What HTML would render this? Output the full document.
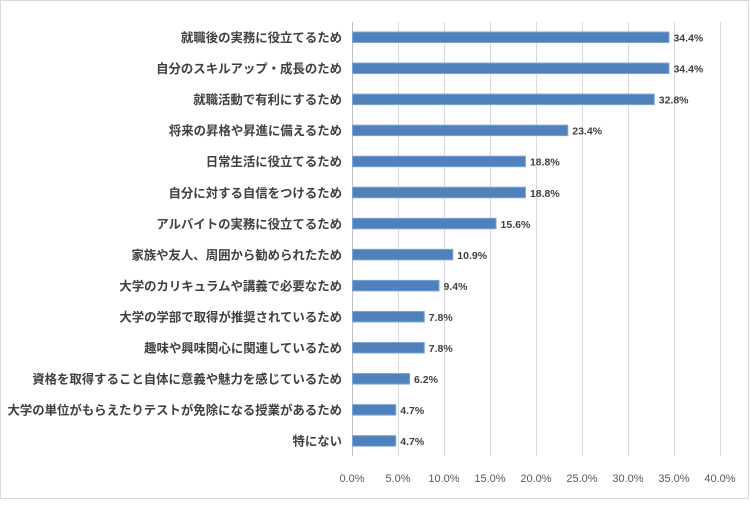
<!DOCTYPE html>
<html><head><meta charset="utf-8"><style>
body{margin:0;background:#fff;}
svg text{font-family:"Liberation Sans","Noto Sans CJK JP",sans-serif;}
</style></head><body>
<svg width="750" height="500" xmlns="http://www.w3.org/2000/svg">
<rect x="0.5" y="0.5" width="748" height="498" fill="#fff" stroke="#d9d9d9"/>
<g stroke="#d9d9d9" stroke-width="1">
<line x1="398.5" y1="22" x2="398.5" y2="456"/>
<line x1="444.5" y1="22" x2="444.5" y2="456"/>
<line x1="490.5" y1="22" x2="490.5" y2="456"/>
<line x1="536.5" y1="22" x2="536.5" y2="456"/>
<line x1="582.5" y1="22" x2="582.5" y2="456"/>
<line x1="628.5" y1="22" x2="628.5" y2="456"/>
<line x1="674.5" y1="22" x2="674.5" y2="456"/>
<line x1="720.5" y1="22" x2="720.5" y2="456"/>
<line x1="352.5" y1="22" x2="352.5" y2="456" stroke="#bfbfbf"/>
</g>
<g font-size="11" fill="#595959" text-anchor="middle">
<text x="352" y="482">0.0%</text><text x="398" y="482">5.0%</text><text x="444" y="482">10.0%</text><text x="490" y="482">15.0%</text><text x="536" y="482">20.0%</text><text x="582" y="482">25.0%</text><text x="628" y="482">30.0%</text><text x="674" y="482">35.0%</text><text x="720" y="482">40.0%</text>
</g>
<g id="bars" fill="#4f81bd" stroke="#7fa3d3" stroke-width="1"></g>
<g id="labels" font-size="12.4" font-weight="bold" fill="#404040" text-anchor="end"></g>
<g id="vals" font-size="10.5" font-weight="bold" fill="#404040"></g>
</svg>
<script>
var d=[["就職後の実務に役立てるため",34.4],["自分のスキルアップ・成長のため",34.4],["就職活動で有利にするため",32.8],["将来の昇格や昇進に備えるため",23.4],["日常生活に役立てるため",18.8],["自分に対する自信をつけるため",18.8],["アルバイトの実務に役立てるため",15.6],["家族や友人、周囲から勧められたため",10.9],["大学のカリキュラムや講義で必要なため",9.4],["大学の学部で取得が推奨されているため",7.8],["趣味や興味関心に関連しているため",7.8],["資格を取得すること自体に意義や魅力を感じているため",6.2],["大学の単位がもらえたりテストが免除になる授業があるため",4.7],["特にない",4.7]];
var ns="http://www.w3.org/2000/svg",B=document.getElementById("bars"),L=document.getElementById("labels"),V=document.getElementById("vals");
d.forEach(function(r,i){var cy=37+i*31.05,w=r[1]*9.2;
var b=document.createElementNS(ns,"rect");b.setAttribute("x",352.5);b.setAttribute("y",cy-5);b.setAttribute("width",w);b.setAttribute("height",10.5);B.appendChild(b);
var t=document.createElementNS(ns,"text");t.setAttribute("x",342);t.setAttribute("y",cy+5);t.textContent=r[0];L.appendChild(t);
var v=document.createElementNS(ns,"text");v.setAttribute("x",352+w+5);v.setAttribute("y",cy+4.5);v.textContent=r[1].toFixed(1)+"%";V.appendChild(v);});
</script>
</body></html>
